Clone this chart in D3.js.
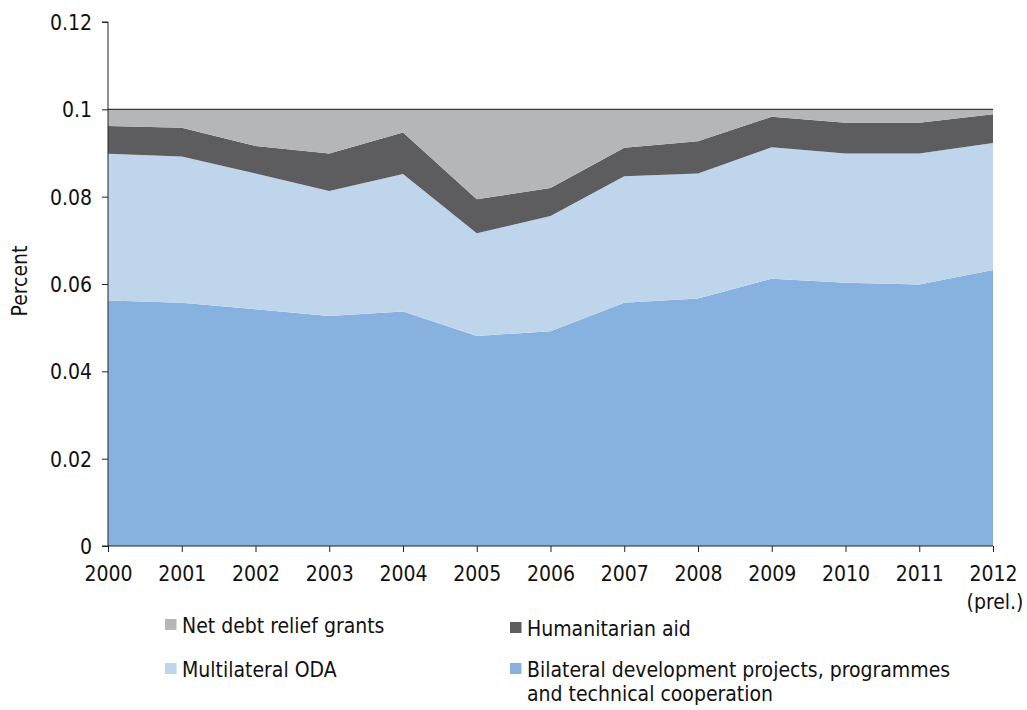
<!DOCTYPE html>
<html>
<head>
<meta charset="utf-8">
<script src="https://cdn.jsdelivr.net/npm/d3@7"></script>
<style>
  html, body { margin: 0; padding: 0; background: #fff; }
  svg text { font-family: "DejaVu Sans Condensed", "DejaVu Sans", sans-serif; font-stretch: condensed; fill: #111; }
</style>
</head>
<body>
<svg id="chart" width="1027" height="710"></svg>
<script>
// Years on the x axis
const years = ["2000","2001","2002","2003","2004","2005","2006","2007","2008","2009","2010","2011","2012"];
// ODA components, percent of GNI
const bilateral    = [0.0562,0.0557,0.0542,0.0527,0.0537,0.0481,0.0492,0.0557,0.0567,0.0612,0.0603,0.0599,0.0632];
const multilateral = [0.0336,0.0335,0.0311,0.0286,0.0315,0.0235,0.0264,0.0290,0.0286,0.0301,0.0296,0.0300,0.0291];
const humanitarian = [0.0064,0.0066,0.0063,0.0086,0.0095,0.0078,0.0064,0.0065,0.0074,0.0070,0.0070,0.0070,0.0066];
const debtRelief   = [0.0038,0.0042,0.0084,0.0101,0.0053,0.0206,0.0180,0.0088,0.0073,0.0017,0.0031,0.0031,0.0011];
const yTicks = [0, 0.02, 0.04, 0.06, 0.08, 0.1, 0.12];
const yTickLabels = ["0","0.02","0.04","0.06","0.08","0.1","0.12"];

const seriesKeys = ["bilateral","multilateral","humanitarian","debt"];
const seriesNames = {
  debt: "Net debt relief grants",
  humanitarian: "Humanitarian aid",
  multilateral: "Multilateral ODA",
  bilateral: "Bilateral development projects, programmes"
};
const colors = {
  bilateral: "#87b1de",
  multilateral: "#bfd5ec",
  humanitarian: "#5d5d60",
  debt: "#b5b6b8"
};

const rows = years.map((y, i) => ({
  year: y,
  bilateral: bilateral[i],
  multilateral: multilateral[i],
  humanitarian: humanitarian[i],
  debt: debtRelief[i]
}));

const svg = d3.select("#chart");
const margin = { left: 108, right: 34, top: 22, bottom: 164 };
const W = 1027, H = 710;
const FS = "21px";

const x = d3.scalePoint().domain(years).range([margin.left, W - margin.right]);
const y = d3.scaleLinear().domain([0, 0.12]).range([H - margin.bottom, margin.top]);

const layers = d3.stack().keys(seriesKeys)(rows);

const area = d3.area()
  .x(d => x(d.data.year))
  .y0(d => y(d[0]))
  .y1(d => y(d[1]));

svg.append("g").selectAll("path")
  .data(layers)
  .join("path")
  .attr("d", area)
  .attr("fill", d => colors[d.key]);

// line along the 0.1 level
svg.append("line")
  .attr("x1", x(years[0])).attr("x2", x(years[years.length - 1]))
  .attr("y1", y(0.1)).attr("y2", y(0.1))
  .attr("stroke", "#3a3a3a").attr("stroke-width", 1.2);

// y axis
const yAxis = svg.append("g")
  .attr("transform", `translate(${margin.left},0)`)
  .call(d3.axisLeft(y).tickValues(yTicks).tickFormat((d, i) => yTickLabels[i]).tickSize(6).tickPadding(10));
yAxis.select(".domain").attr("stroke", "#222").attr("d", `M-6,${y(0.12)}H0V${y(0)}H-6`);
yAxis.selectAll("line").attr("stroke", "#222");
yAxis.selectAll("text").style("font-size", FS).attr("dy", "0.36em").attr("fill", "#111");

// x axis
const xAxis = svg.append("g")
  .attr("transform", `translate(0,${y(0)})`)
  .call(d3.axisBottom(x).tickSize(6));
xAxis.select(".domain").attr("stroke", "#222").attr("d", `M${x(years[0])},0H${x(years[years.length-1])}`);
xAxis.selectAll("line").attr("stroke", "#222");
xAxis.selectAll("text").style("font-size", FS).attr("y", 35).attr("dy", null).attr("fill", "#111");

svg.append("text")
  .attr("x", x("2012") + 2).attr("y", y(0) + 63)
  .attr("text-anchor", "middle")
  .style("font-size", FS)
  .text("(prel.)");

// y axis title
svg.append("text")
  .attr("transform", `translate(27,${(y(0) + y(0.12)) / 2 - 3}) rotate(-90)`)
  .attr("text-anchor", "middle")
  .style("font-size", "21px")
  .text("Percent");

// legend
const legendItems = [
  { key: "debt", x: 165, y: 633 },
  { key: "humanitarian", x: 510, y: 636 },
  { key: "multilateral", x: 165, y: 677 },
  { key: "bilateral", x: 510, y: 677 }
];
const lg = svg.append("g");
legendItems.forEach(it => {
  lg.append("rect")
    .attr("x", it.x).attr("y", it.y - 14)
    .attr("width", 11.5).attr("height", 11)
    .attr("fill", colors[it.key]);
  lg.append("text")
    .attr("x", it.x + 17).attr("y", it.y)
    .style("font-size", FS)
    .text(seriesNames[it.key]);
});
lg.append("text")
  .attr("x", 527).attr("y", 701)
  .style("font-size", FS)
  .text("and technical cooperation");
</script>
</body>
</html>
